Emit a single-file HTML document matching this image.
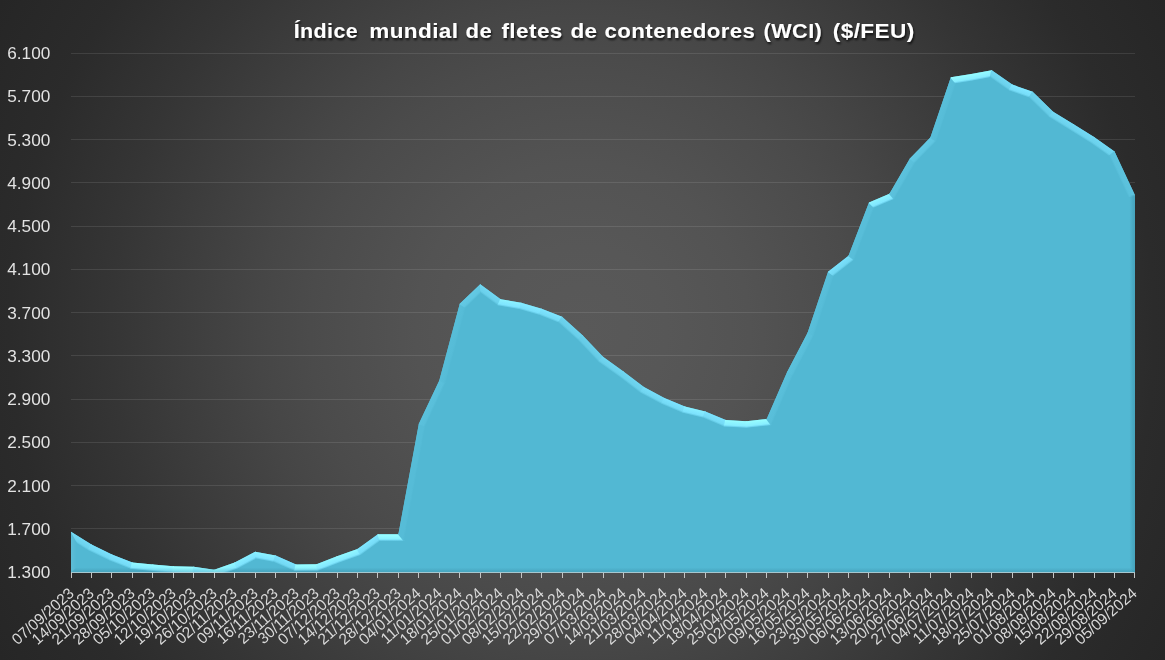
<!DOCTYPE html>
<html><head><meta charset="utf-8"><title>Índice mundial de fletes de contenedores (WCI)</title>
<style>
html,body{margin:0;padding:0;background:#262626;}
body{width:1165px;height:660px;overflow:hidden;}
svg{display:block;}
text{font-family:"Liberation Sans",Arial,sans-serif;}
</style></head><body>
<svg width="1165" height="660" viewBox="0 0 1165 660">
<defs>
<radialGradient id="bg" gradientUnits="userSpaceOnUse" cx="582.5" cy="330" r="669">
<stop offset="0" stop-color="#595959"/><stop offset="0.126" stop-color="#575757"/><stop offset="0.25" stop-color="#535353"/><stop offset="0.407" stop-color="#4b4b4b"/><stop offset="0.484" stop-color="#464646"/><stop offset="0.705" stop-color="#353535"/><stop offset="0.855" stop-color="#2b2b2b"/><stop offset="1" stop-color="#262626"/>
</radialGradient>
<filter id="tsh" x="-5%" y="-30%" width="110%" height="160%">
<feGaussianBlur in="SourceAlpha" stdDeviation="1"/>
<feOffset dx="1" dy="1.5" result="o"/>
<feFlood flood-color="#000" flood-opacity="0.75"/>
<feComposite in2="o" operator="in"/>
<feMerge><feMergeNode/><feMergeNode in="SourceGraphic"/></feMerge>
</filter>
<clipPath id="cp"><polygon points="71.00,573.00 71.00,531.67 91.46,544.54 111.92,554.38 132.38,562.49 152.85,564.54 173.31,566.27 193.77,566.70 214.23,569.84 234.69,562.59 255.15,551.67 275.62,555.57 296.08,564.43 316.54,564.22 337.00,556.32 357.46,549.08 377.92,534.16 398.38,534.16 418.85,423.87 439.31,380.40 459.77,303.85 480.23,284.17 500.69,299.20 521.15,302.77 541.62,308.72 562.08,316.83 582.54,335.21 603.00,356.83 623.46,371.43 643.92,387.11 664.38,397.92 684.85,406.57 705.31,411.43 725.77,420.08 746.23,421.17 766.69,419.00 787.15,371.97 807.62,332.83 828.08,271.63 848.54,255.63 869.00,202.43 889.46,193.78 909.92,158.42 930.38,137.45 950.85,77.33 971.31,74.08 991.77,70.19 1012.23,84.57 1032.69,91.82 1053.15,111.71 1073.62,124.36 1094.08,137.12 1114.54,151.61 1135.00,195.18 1135.00,573.00"/></clipPath>
<linearGradient id="g0" gradientUnits="userSpaceOnUse" x1="71.00" y1="552.33" x2="78.00" y2="552.33"><stop offset="0" stop-color="#ffffff" stop-opacity="0.060"/><stop offset="0.3" stop-color="#ffffff" stop-opacity="0.045"/><stop offset="0.55" stop-color="#ffffff" stop-opacity="0.021"/><stop offset="0.8" stop-color="#ffffff" stop-opacity="0.000"/></linearGradient>
<linearGradient id="g1" gradientUnits="userSpaceOnUse" x1="81.23" y1="538.10" x2="77.50" y2="544.03"><stop offset="0" stop-color="#74daf5"/><stop offset="0.3" stop-color="#70d6f1"/><stop offset="0.7" stop-color="#6cd2ed"/><stop offset="0.86" stop-color="#60c6e1"/><stop offset="1.0" stop-color="#52b8d3"/></linearGradient>
<linearGradient id="g2" gradientUnits="userSpaceOnUse" x1="101.69" y1="549.46" x2="98.66" y2="555.76"><stop offset="0" stop-color="#7be1fc"/><stop offset="0.3" stop-color="#76dcf7"/><stop offset="0.7" stop-color="#71d7f2"/><stop offset="0.86" stop-color="#62c8e3"/><stop offset="1.0" stop-color="#52b8d3"/></linearGradient>
<linearGradient id="g3" gradientUnits="userSpaceOnUse" x1="122.15" y1="558.43" x2="119.57" y2="564.94"><stop offset="0" stop-color="#80e6ff"/><stop offset="0.3" stop-color="#7ae0fb"/><stop offset="0.7" stop-color="#75dbf6"/><stop offset="0.86" stop-color="#64cae5"/><stop offset="1.0" stop-color="#52b8d3"/></linearGradient>
<linearGradient id="g4" gradientUnits="userSpaceOnUse" x1="142.62" y1="563.51" x2="141.92" y2="570.48"><stop offset="0" stop-color="#94faff"/><stop offset="0.3" stop-color="#8cf2ff"/><stop offset="0.7" stop-color="#84eaff"/><stop offset="0.86" stop-color="#6cd2ed"/><stop offset="1.0" stop-color="#52b8d3"/></linearGradient>
<linearGradient id="g5" gradientUnits="userSpaceOnUse" x1="163.08" y1="565.40" x2="162.49" y2="572.38"><stop offset="0" stop-color="#95fbff"/><stop offset="0.3" stop-color="#8df3ff"/><stop offset="0.7" stop-color="#85ebff"/><stop offset="0.86" stop-color="#6dd3ee"/><stop offset="1.0" stop-color="#52b8d3"/></linearGradient>
<linearGradient id="g6" gradientUnits="userSpaceOnUse" x1="183.54" y1="566.49" x2="183.39" y2="573.48"><stop offset="0" stop-color="#9affff"/><stop offset="0.3" stop-color="#92f8ff"/><stop offset="0.7" stop-color="#89efff"/><stop offset="0.86" stop-color="#6fd5f0"/><stop offset="1.0" stop-color="#52b8d3"/></linearGradient>
<linearGradient id="g7" gradientUnits="userSpaceOnUse" x1="204.00" y1="568.27" x2="202.94" y2="575.19"><stop offset="0" stop-color="#8ff5ff"/><stop offset="0.3" stop-color="#88eeff"/><stop offset="0.7" stop-color="#80e6ff"/><stop offset="0.86" stop-color="#6ad0eb"/><stop offset="1.0" stop-color="#52b8d3"/></linearGradient>
<linearGradient id="g8" gradientUnits="userSpaceOnUse" x1="224.46" y1="566.22" x2="226.80" y2="572.81"><stop offset="0" stop-color="#93f9ff"/><stop offset="0.3" stop-color="#8cf2ff"/><stop offset="0.7" stop-color="#84eaff"/><stop offset="0.86" stop-color="#6cd2ed"/><stop offset="1.0" stop-color="#52b8d3"/></linearGradient>
<linearGradient id="g9" gradientUnits="userSpaceOnUse" x1="244.92" y1="557.13" x2="248.22" y2="563.31"><stop offset="0" stop-color="#8af0ff"/><stop offset="0.3" stop-color="#83e9ff"/><stop offset="0.7" stop-color="#7de3fe"/><stop offset="0.86" stop-color="#68cee9"/><stop offset="1.0" stop-color="#52b8d3"/></linearGradient>
<linearGradient id="g10" gradientUnits="userSpaceOnUse" x1="265.38" y1="553.62" x2="264.08" y2="560.50"><stop offset="0" stop-color="#8df3ff"/><stop offset="0.3" stop-color="#86ecff"/><stop offset="0.7" stop-color="#7fe5ff"/><stop offset="0.86" stop-color="#69cfea"/><stop offset="1.0" stop-color="#52b8d3"/></linearGradient>
<linearGradient id="g11" gradientUnits="userSpaceOnUse" x1="285.85" y1="560.00" x2="283.06" y2="566.42"><stop offset="0" stop-color="#7ee4ff"/><stop offset="0.3" stop-color="#78def9"/><stop offset="0.7" stop-color="#73d9f4"/><stop offset="0.86" stop-color="#63c9e4"/><stop offset="1.0" stop-color="#52b8d3"/></linearGradient>
<linearGradient id="g12" gradientUnits="userSpaceOnUse" x1="306.31" y1="564.32" x2="306.38" y2="571.32"><stop offset="0" stop-color="#9cffff"/><stop offset="0.3" stop-color="#93f9ff"/><stop offset="0.7" stop-color="#8af0ff"/><stop offset="0.86" stop-color="#6fd5f0"/><stop offset="1.0" stop-color="#52b8d3"/></linearGradient>
<linearGradient id="g13" gradientUnits="userSpaceOnUse" x1="326.77" y1="560.27" x2="329.29" y2="566.80"><stop offset="0" stop-color="#92f8ff"/><stop offset="0.3" stop-color="#8af0ff"/><stop offset="0.7" stop-color="#83e9ff"/><stop offset="0.86" stop-color="#6cd2ed"/><stop offset="1.0" stop-color="#52b8d3"/></linearGradient>
<linearGradient id="g14" gradientUnits="userSpaceOnUse" x1="347.23" y1="552.70" x2="349.57" y2="559.30"><stop offset="0" stop-color="#93f9ff"/><stop offset="0.3" stop-color="#8cf2ff"/><stop offset="0.7" stop-color="#84eaff"/><stop offset="0.86" stop-color="#6cd2ed"/><stop offset="1.0" stop-color="#52b8d3"/></linearGradient>
<linearGradient id="g15" gradientUnits="userSpaceOnUse" x1="367.69" y1="541.62" x2="371.82" y2="547.27"><stop offset="0" stop-color="#81e7ff"/><stop offset="0.3" stop-color="#7be1fc"/><stop offset="0.7" stop-color="#76dcf7"/><stop offset="0.86" stop-color="#65cbe6"/><stop offset="1.0" stop-color="#52b8d3"/></linearGradient>
<linearGradient id="g16" gradientUnits="userSpaceOnUse" x1="388.15" y1="534.16" x2="388.15" y2="541.16"><stop offset="0" stop-color="#9cffff"/><stop offset="0.3" stop-color="#93f9ff"/><stop offset="0.7" stop-color="#8af0ff"/><stop offset="0.86" stop-color="#70d6f1"/><stop offset="1.0" stop-color="#52b8d3"/></linearGradient>
<linearGradient id="g17" gradientUnits="userSpaceOnUse" x1="408.62" y1="479.01" x2="415.50" y2="480.29"><stop offset="0" stop-color="#57bdd8"/><stop offset="0.3" stop-color="#56bcd7"/><stop offset="0.7" stop-color="#56bcd7"/><stop offset="0.86" stop-color="#54bad5"/><stop offset="1.0" stop-color="#52b8d3"/></linearGradient>
<linearGradient id="g18" gradientUnits="userSpaceOnUse" x1="429.08" y1="402.14" x2="435.41" y2="405.12"><stop offset="0" stop-color="#5bc1dc"/><stop offset="0.3" stop-color="#5ac0db"/><stop offset="0.7" stop-color="#59bfda"/><stop offset="0.86" stop-color="#55bbd6"/><stop offset="1.0" stop-color="#52b8d3"/></linearGradient>
<linearGradient id="g19" gradientUnits="userSpaceOnUse" x1="449.54" y1="342.13" x2="456.30" y2="343.93"><stop offset="0" stop-color="#57bdd8"/><stop offset="0.3" stop-color="#57bdd8"/><stop offset="0.7" stop-color="#56bcd7"/><stop offset="0.86" stop-color="#54bad5"/><stop offset="1.0" stop-color="#52b8d3"/></linearGradient>
<linearGradient id="g20" gradientUnits="userSpaceOnUse" x1="470.00" y1="294.01" x2="474.85" y2="299.06"><stop offset="0" stop-color="#64cae5"/><stop offset="0.3" stop-color="#62c8e3"/><stop offset="0.7" stop-color="#60c6e1"/><stop offset="0.86" stop-color="#59bfda"/><stop offset="1.0" stop-color="#52b8d3"/></linearGradient>
<linearGradient id="g21" gradientUnits="userSpaceOnUse" x1="490.46" y1="291.69" x2="486.32" y2="297.33"><stop offset="0" stop-color="#72d8f3"/><stop offset="0.3" stop-color="#6ed4ef"/><stop offset="0.7" stop-color="#6ad0eb"/><stop offset="0.86" stop-color="#5fc5e0"/><stop offset="1.0" stop-color="#52b8d3"/></linearGradient>
<linearGradient id="g22" gradientUnits="userSpaceOnUse" x1="510.92" y1="300.98" x2="509.72" y2="307.88"><stop offset="0" stop-color="#8ef4ff"/><stop offset="0.3" stop-color="#86ecff"/><stop offset="0.7" stop-color="#7fe5ff"/><stop offset="0.86" stop-color="#6ad0eb"/><stop offset="1.0" stop-color="#52b8d3"/></linearGradient>
<linearGradient id="g23" gradientUnits="userSpaceOnUse" x1="531.38" y1="305.74" x2="529.43" y2="312.46"><stop offset="0" stop-color="#86ecff"/><stop offset="0.3" stop-color="#80e6ff"/><stop offset="0.7" stop-color="#7ae0fb"/><stop offset="0.86" stop-color="#67cde8"/><stop offset="1.0" stop-color="#52b8d3"/></linearGradient>
<linearGradient id="g24" gradientUnits="userSpaceOnUse" x1="551.85" y1="312.77" x2="549.27" y2="319.28"><stop offset="0" stop-color="#80e6ff"/><stop offset="0.3" stop-color="#7ae0fb"/><stop offset="0.7" stop-color="#75dbf6"/><stop offset="0.86" stop-color="#64cae5"/><stop offset="1.0" stop-color="#52b8d3"/></linearGradient>
<linearGradient id="g25" gradientUnits="userSpaceOnUse" x1="572.31" y1="326.02" x2="567.63" y2="331.22"><stop offset="0" stop-color="#6ed4ef"/><stop offset="0.3" stop-color="#6bd1ec"/><stop offset="0.7" stop-color="#68cee9"/><stop offset="0.86" stop-color="#5dc3de"/><stop offset="1.0" stop-color="#52b8d3"/></linearGradient>
<linearGradient id="g26" gradientUnits="userSpaceOnUse" x1="592.77" y1="346.02" x2="587.68" y2="350.83"><stop offset="0" stop-color="#6bd1ec"/><stop offset="0.3" stop-color="#68cee9"/><stop offset="0.7" stop-color="#65cbe6"/><stop offset="0.86" stop-color="#5cc2dd"/><stop offset="1.0" stop-color="#52b8d3"/></linearGradient>
<linearGradient id="g27" gradientUnits="userSpaceOnUse" x1="613.23" y1="364.13" x2="609.17" y2="369.83"><stop offset="0" stop-color="#72d8f3"/><stop offset="0.3" stop-color="#6ed4ef"/><stop offset="0.7" stop-color="#6ad0eb"/><stop offset="0.86" stop-color="#5fc5e0"/><stop offset="1.0" stop-color="#52b8d3"/></linearGradient>
<linearGradient id="g28" gradientUnits="userSpaceOnUse" x1="633.69" y1="379.27" x2="629.43" y2="384.82"><stop offset="0" stop-color="#71d7f2"/><stop offset="0.3" stop-color="#6dd3ee"/><stop offset="0.7" stop-color="#6ad0eb"/><stop offset="0.86" stop-color="#5ec4df"/><stop offset="1.0" stop-color="#52b8d3"/></linearGradient>
<linearGradient id="g29" gradientUnits="userSpaceOnUse" x1="654.15" y1="392.51" x2="650.88" y2="398.70"><stop offset="0" stop-color="#78def9"/><stop offset="0.3" stop-color="#74daf5"/><stop offset="0.7" stop-color="#6fd5f0"/><stop offset="0.86" stop-color="#61c7e2"/><stop offset="1.0" stop-color="#52b8d3"/></linearGradient>
<linearGradient id="g30" gradientUnits="userSpaceOnUse" x1="674.62" y1="402.24" x2="671.89" y2="408.69"><stop offset="0" stop-color="#7ee4ff"/><stop offset="0.3" stop-color="#79dffa"/><stop offset="0.7" stop-color="#74daf5"/><stop offset="0.86" stop-color="#64cae5"/><stop offset="1.0" stop-color="#52b8d3"/></linearGradient>
<linearGradient id="g31" gradientUnits="userSpaceOnUse" x1="695.08" y1="409.00" x2="693.46" y2="415.81"><stop offset="0" stop-color="#8af0ff"/><stop offset="0.3" stop-color="#83e9ff"/><stop offset="0.7" stop-color="#7ce2fd"/><stop offset="0.86" stop-color="#68cee9"/><stop offset="1.0" stop-color="#52b8d3"/></linearGradient>
<linearGradient id="g32" gradientUnits="userSpaceOnUse" x1="715.54" y1="415.76" x2="712.81" y2="422.21"><stop offset="0" stop-color="#7ee4ff"/><stop offset="0.3" stop-color="#79dffa"/><stop offset="0.7" stop-color="#74daf5"/><stop offset="0.86" stop-color="#64cae5"/><stop offset="1.0" stop-color="#52b8d3"/></linearGradient>
<linearGradient id="g33" gradientUnits="userSpaceOnUse" x1="736.00" y1="420.62" x2="735.63" y2="427.62"><stop offset="0" stop-color="#98feff"/><stop offset="0.3" stop-color="#8ff5ff"/><stop offset="0.7" stop-color="#87edff"/><stop offset="0.86" stop-color="#6ed4ef"/><stop offset="1.0" stop-color="#52b8d3"/></linearGradient>
<linearGradient id="g34" gradientUnits="userSpaceOnUse" x1="756.46" y1="420.08" x2="757.20" y2="427.05"><stop offset="0" stop-color="#99ffff"/><stop offset="0.3" stop-color="#91f7ff"/><stop offset="0.7" stop-color="#88eeff"/><stop offset="0.86" stop-color="#6fd5f0"/><stop offset="1.0" stop-color="#52b8d3"/></linearGradient>
<linearGradient id="g35" gradientUnits="userSpaceOnUse" x1="776.92" y1="395.49" x2="783.34" y2="398.28"><stop offset="0" stop-color="#5ac0db"/><stop offset="0.3" stop-color="#59bfda"/><stop offset="0.7" stop-color="#58bed9"/><stop offset="0.86" stop-color="#55bbd6"/><stop offset="1.0" stop-color="#52b8d3"/></linearGradient>
<linearGradient id="g36" gradientUnits="userSpaceOnUse" x1="797.38" y1="352.40" x2="803.59" y2="355.64"><stop offset="0" stop-color="#5cc2dd"/><stop offset="0.3" stop-color="#5ac0db"/><stop offset="0.7" stop-color="#59bfda"/><stop offset="0.86" stop-color="#56bcd7"/><stop offset="1.0" stop-color="#52b8d3"/></linearGradient>
<linearGradient id="g37" gradientUnits="userSpaceOnUse" x1="817.85" y1="302.23" x2="824.48" y2="304.45"><stop offset="0" stop-color="#58bed9"/><stop offset="0.3" stop-color="#58bed9"/><stop offset="0.7" stop-color="#57bdd8"/><stop offset="0.86" stop-color="#55bbd6"/><stop offset="1.0" stop-color="#52b8d3"/></linearGradient>
<linearGradient id="g38" gradientUnits="userSpaceOnUse" x1="838.31" y1="263.63" x2="842.62" y2="269.14"><stop offset="0" stop-color="#7ce2fd"/><stop offset="0.3" stop-color="#77ddf8"/><stop offset="0.7" stop-color="#72d8f3"/><stop offset="0.86" stop-color="#63c9e4"/><stop offset="1.0" stop-color="#52b8d3"/></linearGradient>
<linearGradient id="g39" gradientUnits="userSpaceOnUse" x1="858.77" y1="229.03" x2="865.30" y2="231.54"><stop offset="0" stop-color="#59bfda"/><stop offset="0.3" stop-color="#58bed9"/><stop offset="0.7" stop-color="#58bed9"/><stop offset="0.86" stop-color="#55bbd6"/><stop offset="1.0" stop-color="#52b8d3"/></linearGradient>
<linearGradient id="g40" gradientUnits="userSpaceOnUse" x1="879.23" y1="198.10" x2="881.96" y2="204.55"><stop offset="0" stop-color="#90f6ff"/><stop offset="0.3" stop-color="#88eeff"/><stop offset="0.7" stop-color="#81e7ff"/><stop offset="0.86" stop-color="#6bd1ec"/><stop offset="1.0" stop-color="#52b8d3"/></linearGradient>
<linearGradient id="g41" gradientUnits="userSpaceOnUse" x1="899.69" y1="176.10" x2="905.75" y2="179.61"><stop offset="0" stop-color="#5cc2dd"/><stop offset="0.3" stop-color="#5bc1dc"/><stop offset="0.7" stop-color="#5ac0db"/><stop offset="0.86" stop-color="#56bcd7"/><stop offset="1.0" stop-color="#52b8d3"/></linearGradient>
<linearGradient id="g42" gradientUnits="userSpaceOnUse" x1="920.15" y1="147.93" x2="925.16" y2="152.82"><stop offset="0" stop-color="#63c9e4"/><stop offset="0.3" stop-color="#61c7e2"/><stop offset="0.7" stop-color="#5fc5e0"/><stop offset="0.86" stop-color="#59bfda"/><stop offset="1.0" stop-color="#52b8d3"/></linearGradient>
<linearGradient id="g43" gradientUnits="userSpaceOnUse" x1="940.62" y1="107.39" x2="947.24" y2="109.64"><stop offset="0" stop-color="#58bed9"/><stop offset="0.3" stop-color="#58bed9"/><stop offset="0.7" stop-color="#57bdd8"/><stop offset="0.86" stop-color="#55bbd6"/><stop offset="1.0" stop-color="#52b8d3"/></linearGradient>
<linearGradient id="g44" gradientUnits="userSpaceOnUse" x1="961.08" y1="75.71" x2="962.17" y2="82.62"><stop offset="0" stop-color="#98feff"/><stop offset="0.3" stop-color="#90f6ff"/><stop offset="0.7" stop-color="#87edff"/><stop offset="0.86" stop-color="#6ed4ef"/><stop offset="1.0" stop-color="#52b8d3"/></linearGradient>
<linearGradient id="g45" gradientUnits="userSpaceOnUse" x1="981.54" y1="72.14" x2="982.85" y2="79.01"><stop offset="0" stop-color="#97fdff"/><stop offset="0.3" stop-color="#8ff5ff"/><stop offset="0.7" stop-color="#87edff"/><stop offset="0.86" stop-color="#6ed4ef"/><stop offset="1.0" stop-color="#52b8d3"/></linearGradient>
<linearGradient id="g46" gradientUnits="userSpaceOnUse" x1="1002.00" y1="77.38" x2="997.97" y2="83.11"><stop offset="0" stop-color="#72d8f3"/><stop offset="0.3" stop-color="#6fd5f0"/><stop offset="0.7" stop-color="#6bd1ec"/><stop offset="0.86" stop-color="#5fc5e0"/><stop offset="1.0" stop-color="#52b8d3"/></linearGradient>
<linearGradient id="g47" gradientUnits="userSpaceOnUse" x1="1022.46" y1="88.19" x2="1020.13" y2="94.79"><stop offset="0" stop-color="#82e8ff"/><stop offset="0.3" stop-color="#7de3fe"/><stop offset="0.7" stop-color="#77ddf8"/><stop offset="0.86" stop-color="#65cbe6"/><stop offset="1.0" stop-color="#52b8d3"/></linearGradient>
<linearGradient id="g48" gradientUnits="userSpaceOnUse" x1="1042.92" y1="101.76" x2="1038.04" y2="106.78"><stop offset="0" stop-color="#6dd3ee"/><stop offset="0.3" stop-color="#6ad0eb"/><stop offset="0.7" stop-color="#67cde8"/><stop offset="0.86" stop-color="#5dc3de"/><stop offset="1.0" stop-color="#52b8d3"/></linearGradient>
<linearGradient id="g49" gradientUnits="userSpaceOnUse" x1="1063.38" y1="118.04" x2="1059.70" y2="123.99"><stop offset="0" stop-color="#74daf5"/><stop offset="0.3" stop-color="#70d6f1"/><stop offset="0.7" stop-color="#6cd2ed"/><stop offset="0.86" stop-color="#60c6e1"/><stop offset="1.0" stop-color="#52b8d3"/></linearGradient>
<linearGradient id="g50" gradientUnits="userSpaceOnUse" x1="1083.85" y1="130.74" x2="1080.14" y2="136.68"><stop offset="0" stop-color="#74daf5"/><stop offset="0.3" stop-color="#70d6f1"/><stop offset="0.7" stop-color="#6cd2ed"/><stop offset="0.86" stop-color="#60c6e1"/><stop offset="1.0" stop-color="#52b8d3"/></linearGradient>
<linearGradient id="g51" gradientUnits="userSpaceOnUse" x1="1104.31" y1="144.37" x2="1100.26" y2="150.08"><stop offset="0" stop-color="#72d8f3"/><stop offset="0.3" stop-color="#6ed4ef"/><stop offset="0.7" stop-color="#6bd1ec"/><stop offset="0.86" stop-color="#5fc5e0"/><stop offset="1.0" stop-color="#52b8d3"/></linearGradient>
<linearGradient id="g52" gradientUnits="userSpaceOnUse" x1="1124.77" y1="173.40" x2="1118.43" y2="176.37"><stop offset="0" stop-color="#5dc3de"/><stop offset="0.3" stop-color="#5cc2dd"/><stop offset="0.7" stop-color="#5bc1dc"/><stop offset="0.86" stop-color="#56bcd7"/><stop offset="1.0" stop-color="#52b8d3"/></linearGradient>
<linearGradient id="g53" gradientUnits="userSpaceOnUse" x1="1135.00" y1="384.09" x2="1128.00" y2="384.09"><stop offset="0" stop-color="#0a3a4a" stop-opacity="0.160"/><stop offset="0.3" stop-color="#0a3a4a" stop-opacity="0.120"/><stop offset="0.55" stop-color="#0a3a4a" stop-opacity="0.056"/><stop offset="0.8" stop-color="#0a3a4a" stop-opacity="0.000"/></linearGradient>
<linearGradient id="g54" gradientUnits="userSpaceOnUse" x1="603.00" y1="573.00" x2="603.00" y2="566.00"><stop offset="0" stop-color="#0a3a4a" stop-opacity="0.160"/><stop offset="0.3" stop-color="#0a3a4a" stop-opacity="0.120"/><stop offset="0.55" stop-color="#0a3a4a" stop-opacity="0.056"/><stop offset="0.8" stop-color="#0a3a4a" stop-opacity="0.000"/></linearGradient>
</defs>
<rect width="1165" height="660" fill="url(#bg)"/>
<g filter="url(#tsh)" font-size="21" font-weight="bold" letter-spacing="0.4" fill="#ffffff">
<text transform="translate(293.68,38) scale(1.021,1)">Índice</text>
<text transform="translate(369.23,38) scale(1.072,1)">mundial</text>
<text transform="translate(465.55,38) scale(1.05,1)">de</text>
<text transform="translate(501.40,38) scale(1.073,1)">fletes</text>
<text transform="translate(570.43,38) scale(1.07,1)">de</text>
<text transform="translate(604.54,38) scale(1.059,1)">contenedores</text>
<text transform="translate(763.57,38) scale(1.033,1)">(WCI)</text>
<text transform="translate(832.72,38) scale(1.076,1)">($/FEU)</text>
</g>
<line x1="71" y1="53.5" x2="1135" y2="53.5" stroke="#ffffff" stroke-opacity="0.1" stroke-width="1"/>
<line x1="71" y1="96.5" x2="1135" y2="96.5" stroke="#ffffff" stroke-opacity="0.1" stroke-width="1"/>
<line x1="71" y1="139.5" x2="1135" y2="139.5" stroke="#ffffff" stroke-opacity="0.1" stroke-width="1"/>
<line x1="71" y1="182.5" x2="1135" y2="182.5" stroke="#ffffff" stroke-opacity="0.1" stroke-width="1"/>
<line x1="71" y1="226.5" x2="1135" y2="226.5" stroke="#ffffff" stroke-opacity="0.1" stroke-width="1"/>
<line x1="71" y1="269.5" x2="1135" y2="269.5" stroke="#ffffff" stroke-opacity="0.1" stroke-width="1"/>
<line x1="71" y1="312.5" x2="1135" y2="312.5" stroke="#ffffff" stroke-opacity="0.1" stroke-width="1"/>
<line x1="71" y1="355.5" x2="1135" y2="355.5" stroke="#ffffff" stroke-opacity="0.1" stroke-width="1"/>
<line x1="71" y1="399.5" x2="1135" y2="399.5" stroke="#ffffff" stroke-opacity="0.1" stroke-width="1"/>
<line x1="71" y1="442.5" x2="1135" y2="442.5" stroke="#ffffff" stroke-opacity="0.1" stroke-width="1"/>
<line x1="71" y1="485.5" x2="1135" y2="485.5" stroke="#ffffff" stroke-opacity="0.1" stroke-width="1"/>
<line x1="71" y1="528.5" x2="1135" y2="528.5" stroke="#ffffff" stroke-opacity="0.1" stroke-width="1"/>
<text x="50.3" y="578.0" text-anchor="end" font-size="17.2" fill="#e2e2e2">1.300</text>
<text x="50.3" y="534.8" text-anchor="end" font-size="17.2" fill="#e2e2e2">1.700</text>
<text x="50.3" y="491.5" text-anchor="end" font-size="17.2" fill="#e2e2e2">2.100</text>
<text x="50.3" y="448.2" text-anchor="end" font-size="17.2" fill="#e2e2e2">2.500</text>
<text x="50.3" y="405.0" text-anchor="end" font-size="17.2" fill="#e2e2e2">2.900</text>
<text x="50.3" y="361.8" text-anchor="end" font-size="17.2" fill="#e2e2e2">3.300</text>
<text x="50.3" y="318.5" text-anchor="end" font-size="17.2" fill="#e2e2e2">3.700</text>
<text x="50.3" y="275.2" text-anchor="end" font-size="17.2" fill="#e2e2e2">4.100</text>
<text x="50.3" y="232.0" text-anchor="end" font-size="17.2" fill="#e2e2e2">4.500</text>
<text x="50.3" y="188.8" text-anchor="end" font-size="17.2" fill="#e2e2e2">4.900</text>
<text x="50.3" y="145.5" text-anchor="end" font-size="17.2" fill="#e2e2e2">5.300</text>
<text x="50.3" y="102.2" text-anchor="end" font-size="17.2" fill="#e2e2e2">5.700</text>
<text x="50.3" y="59.0" text-anchor="end" font-size="17.2" fill="#e2e2e2">6.100</text>
<polygon points="71.00,573.00 71.00,531.67 91.46,544.54 111.92,554.38 132.38,562.49 152.85,564.54 173.31,566.27 193.77,566.70 214.23,569.84 234.69,562.59 255.15,551.67 275.62,555.57 296.08,564.43 316.54,564.22 337.00,556.32 357.46,549.08 377.92,534.16 398.38,534.16 418.85,423.87 439.31,380.40 459.77,303.85 480.23,284.17 500.69,299.20 521.15,302.77 541.62,308.72 562.08,316.83 582.54,335.21 603.00,356.83 623.46,371.43 643.92,387.11 664.38,397.92 684.85,406.57 705.31,411.43 725.77,420.08 746.23,421.17 766.69,419.00 787.15,371.97 807.62,332.83 828.08,271.63 848.54,255.63 869.00,202.43 889.46,193.78 909.92,158.42 930.38,137.45 950.85,77.33 971.31,74.08 991.77,70.19 1012.23,84.57 1032.69,91.82 1053.15,111.71 1073.62,124.36 1094.08,137.12 1114.54,151.61 1135.00,195.18 1135.00,573.00" fill="#52b8d3"/>
<g clip-path="url(#cp)">
<polygon points="68.49,527.73 92.94,543.10 88.58,550.99 77.49,544.02" fill="url(#g1)"/>
<polygon points="91.89,542.52 113.27,552.80 109.65,561.05 87.53,550.41" fill="url(#g2)"/>
<polygon points="112.17,552.32 133.42,560.74 131.27,569.57 108.56,560.57" fill="url(#g3)"/>
<polygon points="132.27,560.46 153.63,562.61 152.80,571.57 130.12,569.29" fill="url(#g4)"/>
<polygon points="152.43,562.50 174.01,564.32 173.54,573.31 151.60,571.46" fill="url(#g5)"/>
<polygon points="172.81,564.26 194.54,564.72 193.76,573.70 172.34,573.25" fill="url(#g6)"/>
<polygon points="193.35,564.61 214.63,567.88 215.50,577.11 192.57,573.60" fill="url(#g7)"/>
<polygon points="213.47,567.98 234.45,560.56 238.09,568.82 214.34,577.22" fill="url(#g8)"/>
<polygon points="233.35,561.04 255.36,549.29 256.80,558.73 236.99,569.30" fill="url(#g9)"/>
<polygon points="254.25,549.46 276.80,553.75 274.13,562.41 255.68,558.90" fill="url(#g10)"/>
<polygon points="275.66,553.40 297.03,562.67 295.21,571.69 272.99,562.06" fill="url(#g11)"/>
<polygon points="295.88,562.43 316.76,562.21 318.48,571.19 294.06,571.45" fill="url(#g12)"/>
<polygon points="315.60,562.43 336.87,554.23 339.99,562.67 317.32,571.42" fill="url(#g13)"/>
<polygon points="335.74,554.65 357.08,547.09 361.33,555.13 338.86,563.09" fill="url(#g14)"/>
<polygon points="356.03,547.64 377.76,531.80 380.69,540.80 360.28,555.69" fill="url(#g15)"/>
<polygon points="376.67,532.16 397.32,532.16 404.81,541.16 379.60,541.16" fill="url(#g16)"/>
<polygon points="396.61,532.75 417.04,422.66 425.67,425.44 404.10,541.75" fill="url(#g17)"/>
<polygon points="416.67,423.79 437.68,379.17 446.16,382.27 425.31,426.58" fill="url(#g18)"/>
<polygon points="437.27,380.29 458.14,302.22 466.18,306.96 445.75,383.40" fill="url(#g19)"/>
<polygon points="457.55,303.21 480.49,281.15 481.27,292.89 465.60,307.96" fill="url(#g20)"/>
<polygon points="479.57,281.21 501.98,297.67 498.36,306.17 480.35,292.95" fill="url(#g21)"/>
<polygon points="500.91,297.21 522.20,300.92 520.16,309.70 497.28,305.71" fill="url(#g22)"/>
<polygon points="521.03,300.65 542.84,306.99 539.92,315.51 518.99,309.43" fill="url(#g23)"/>
<polygon points="541.71,306.60 563.70,315.32 558.89,323.09 538.79,315.12" fill="url(#g24)"/>
<polygon points="562.70,314.70 584.38,334.17 578.10,340.62 557.89,322.47" fill="url(#g25)"/>
<polygon points="583.52,333.34 604.73,355.75 598.79,362.57 577.24,339.79" fill="url(#g26)"/>
<polygon points="603.83,354.97 625.14,370.17 619.79,377.41 597.89,361.79" fill="url(#g27)"/>
<polygon points="624.17,369.45 645.48,385.78 640.61,393.39 618.82,376.69" fill="url(#g28)"/>
<polygon points="644.48,385.14 665.77,396.39 661.91,404.53 639.60,392.74" fill="url(#g29)"/>
<polygon points="664.69,395.88 686.02,404.90 683.21,413.48 660.83,404.02" fill="url(#g30)"/>
<polygon points="684.89,404.52 706.52,409.67 703.70,418.25 682.07,413.10" fill="url(#g31)"/>
<polygon points="705.38,409.29 726.78,418.34 724.73,427.24 702.57,417.88" fill="url(#g32)"/>
<polygon points="725.63,418.07 746.78,419.19 747.01,428.22 723.57,426.98" fill="url(#g33)"/>
<polygon points="745.58,419.22 765.92,417.07 772.08,425.47 745.82,428.25" fill="url(#g34)"/>
<polygon points="765.08,417.69 785.59,370.56 793.71,374.44 771.24,426.09" fill="url(#g35)"/>
<polygon points="785.07,371.64 806.05,331.51 814.36,335.04 793.20,375.52" fill="url(#g36)"/>
<polygon points="805.58,332.61 826.56,269.85 834.24,275.28 813.89,336.15" fill="url(#g37)"/>
<polygon points="825.90,270.79 847.34,254.02 854.85,259.58 833.58,276.22" fill="url(#g38)"/>
<polygon points="846.66,254.95 867.65,200.36 874.68,207.16 854.16,260.51" fill="url(#g39)"/>
<polygon points="866.89,201.15 888.62,191.96 894.90,199.08 873.91,207.95" fill="url(#g40)"/>
<polygon points="887.77,192.72 908.62,156.68 915.84,162.16 894.05,199.83" fill="url(#g41)"/>
<polygon points="907.90,157.63 929.06,135.94 936.92,140.77 915.13,163.11" fill="url(#g42)"/>
<polygon points="928.44,136.94 949.53,74.97 956.31,83.01 936.31,141.77" fill="url(#g43)"/>
<polygon points="948.75,75.64 971.56,72.02 973.10,80.89 955.52,83.67" fill="url(#g44)"/>
<polygon points="970.37,72.23 992.82,67.96 990.76,77.51 971.92,81.09" fill="url(#g45)"/>
<polygon points="991.74,67.72 1013.65,83.12 1009.48,91.20 989.68,77.28" fill="url(#g46)"/>
<polygon points="1012.59,82.58 1034.34,90.28 1029.48,98.10 1008.42,90.65" fill="url(#g47)"/>
<polygon points="1033.34,89.66 1054.82,110.54 1049.25,117.68 1028.48,97.49" fill="url(#g48)"/>
<polygon points="1053.88,109.81 1075.18,122.98 1070.43,130.62 1048.31,116.95" fill="url(#g49)"/>
<polygon points="1074.16,122.35 1095.69,135.77 1090.71,143.27 1069.41,129.99" fill="url(#g50)"/>
<polygon points="1094.70,135.11 1116.61,150.63 1109.48,156.60 1089.71,142.61" fill="url(#g51)"/>
<polygon points="1115.87,149.74 1137.26,195.28 1128.26,197.29 1108.73,155.71" fill="url(#g52)"/>
<polygon points="69.00,575.60 69.00,527.45 78.00,543.74 78.00,566.60" fill="url(#g0)"/>
<polygon points="1137.00,194.14 1137.00,575.60 1128.00,566.60 1128.00,196.15" fill="url(#g53)"/>
<polygon points="1137.60,575.00 68.40,575.00 77.40,566.00 1128.60,566.00" fill="url(#g54)"/>
</g>
<line x1="71" y1="572.5" x2="1135" y2="572.5" stroke="#d9d9d9" stroke-opacity="0.65" stroke-width="1"/>
<line x1="71.5" y1="573" x2="71.5" y2="578" stroke="#c4c4c4" stroke-width="1"/>
<line x1="91.5" y1="573" x2="91.5" y2="578" stroke="#c4c4c4" stroke-width="1"/>
<line x1="111.5" y1="573" x2="111.5" y2="578" stroke="#c4c4c4" stroke-width="1"/>
<line x1="132.5" y1="573" x2="132.5" y2="578" stroke="#c4c4c4" stroke-width="1"/>
<line x1="152.5" y1="573" x2="152.5" y2="578" stroke="#c4c4c4" stroke-width="1"/>
<line x1="173.5" y1="573" x2="173.5" y2="578" stroke="#c4c4c4" stroke-width="1"/>
<line x1="193.5" y1="573" x2="193.5" y2="578" stroke="#c4c4c4" stroke-width="1"/>
<line x1="214.5" y1="573" x2="214.5" y2="578" stroke="#c4c4c4" stroke-width="1"/>
<line x1="234.5" y1="573" x2="234.5" y2="578" stroke="#c4c4c4" stroke-width="1"/>
<line x1="255.5" y1="573" x2="255.5" y2="578" stroke="#c4c4c4" stroke-width="1"/>
<line x1="275.5" y1="573" x2="275.5" y2="578" stroke="#c4c4c4" stroke-width="1"/>
<line x1="296.5" y1="573" x2="296.5" y2="578" stroke="#c4c4c4" stroke-width="1"/>
<line x1="316.5" y1="573" x2="316.5" y2="578" stroke="#c4c4c4" stroke-width="1"/>
<line x1="337.5" y1="573" x2="337.5" y2="578" stroke="#c4c4c4" stroke-width="1"/>
<line x1="357.5" y1="573" x2="357.5" y2="578" stroke="#c4c4c4" stroke-width="1"/>
<line x1="377.5" y1="573" x2="377.5" y2="578" stroke="#c4c4c4" stroke-width="1"/>
<line x1="398.5" y1="573" x2="398.5" y2="578" stroke="#c4c4c4" stroke-width="1"/>
<line x1="418.5" y1="573" x2="418.5" y2="578" stroke="#c4c4c4" stroke-width="1"/>
<line x1="439.5" y1="573" x2="439.5" y2="578" stroke="#c4c4c4" stroke-width="1"/>
<line x1="459.5" y1="573" x2="459.5" y2="578" stroke="#c4c4c4" stroke-width="1"/>
<line x1="480.5" y1="573" x2="480.5" y2="578" stroke="#c4c4c4" stroke-width="1"/>
<line x1="500.5" y1="573" x2="500.5" y2="578" stroke="#c4c4c4" stroke-width="1"/>
<line x1="521.5" y1="573" x2="521.5" y2="578" stroke="#c4c4c4" stroke-width="1"/>
<line x1="541.5" y1="573" x2="541.5" y2="578" stroke="#c4c4c4" stroke-width="1"/>
<line x1="562.5" y1="573" x2="562.5" y2="578" stroke="#c4c4c4" stroke-width="1"/>
<line x1="582.5" y1="573" x2="582.5" y2="578" stroke="#c4c4c4" stroke-width="1"/>
<line x1="603.5" y1="573" x2="603.5" y2="578" stroke="#c4c4c4" stroke-width="1"/>
<line x1="623.5" y1="573" x2="623.5" y2="578" stroke="#c4c4c4" stroke-width="1"/>
<line x1="643.5" y1="573" x2="643.5" y2="578" stroke="#c4c4c4" stroke-width="1"/>
<line x1="664.5" y1="573" x2="664.5" y2="578" stroke="#c4c4c4" stroke-width="1"/>
<line x1="684.5" y1="573" x2="684.5" y2="578" stroke="#c4c4c4" stroke-width="1"/>
<line x1="705.5" y1="573" x2="705.5" y2="578" stroke="#c4c4c4" stroke-width="1"/>
<line x1="725.5" y1="573" x2="725.5" y2="578" stroke="#c4c4c4" stroke-width="1"/>
<line x1="746.5" y1="573" x2="746.5" y2="578" stroke="#c4c4c4" stroke-width="1"/>
<line x1="766.5" y1="573" x2="766.5" y2="578" stroke="#c4c4c4" stroke-width="1"/>
<line x1="787.5" y1="573" x2="787.5" y2="578" stroke="#c4c4c4" stroke-width="1"/>
<line x1="807.5" y1="573" x2="807.5" y2="578" stroke="#c4c4c4" stroke-width="1"/>
<line x1="828.5" y1="573" x2="828.5" y2="578" stroke="#c4c4c4" stroke-width="1"/>
<line x1="848.5" y1="573" x2="848.5" y2="578" stroke="#c4c4c4" stroke-width="1"/>
<line x1="868.5" y1="573" x2="868.5" y2="578" stroke="#c4c4c4" stroke-width="1"/>
<line x1="889.5" y1="573" x2="889.5" y2="578" stroke="#c4c4c4" stroke-width="1"/>
<line x1="909.5" y1="573" x2="909.5" y2="578" stroke="#c4c4c4" stroke-width="1"/>
<line x1="930.5" y1="573" x2="930.5" y2="578" stroke="#c4c4c4" stroke-width="1"/>
<line x1="950.5" y1="573" x2="950.5" y2="578" stroke="#c4c4c4" stroke-width="1"/>
<line x1="971.5" y1="573" x2="971.5" y2="578" stroke="#c4c4c4" stroke-width="1"/>
<line x1="991.5" y1="573" x2="991.5" y2="578" stroke="#c4c4c4" stroke-width="1"/>
<line x1="1012.5" y1="573" x2="1012.5" y2="578" stroke="#c4c4c4" stroke-width="1"/>
<line x1="1032.5" y1="573" x2="1032.5" y2="578" stroke="#c4c4c4" stroke-width="1"/>
<line x1="1053.5" y1="573" x2="1053.5" y2="578" stroke="#c4c4c4" stroke-width="1"/>
<line x1="1073.5" y1="573" x2="1073.5" y2="578" stroke="#c4c4c4" stroke-width="1"/>
<line x1="1094.5" y1="573" x2="1094.5" y2="578" stroke="#c4c4c4" stroke-width="1"/>
<line x1="1114.5" y1="573" x2="1114.5" y2="578" stroke="#c4c4c4" stroke-width="1"/>
<line x1="1134.5" y1="573" x2="1134.5" y2="578" stroke="#c4c4c4" stroke-width="1"/>
<text transform="translate(74.90,594.75) rotate(-41.5)" text-anchor="end" font-size="15.5" letter-spacing="-0.1" fill="#d9d9d9">07/09/2023</text>
<text transform="translate(94.90,594.75) rotate(-41.5)" text-anchor="end" font-size="15.5" letter-spacing="-0.1" fill="#d9d9d9">14/09/2023</text>
<text transform="translate(114.90,594.75) rotate(-41.5)" text-anchor="end" font-size="15.5" letter-spacing="-0.1" fill="#d9d9d9">21/09/2023</text>
<text transform="translate(135.90,594.75) rotate(-41.5)" text-anchor="end" font-size="15.5" letter-spacing="-0.1" fill="#d9d9d9">28/09/2023</text>
<text transform="translate(155.90,594.75) rotate(-41.5)" text-anchor="end" font-size="15.5" letter-spacing="-0.1" fill="#d9d9d9">05/10/2023</text>
<text transform="translate(176.90,594.75) rotate(-41.5)" text-anchor="end" font-size="15.5" letter-spacing="-0.1" fill="#d9d9d9">12/10/2023</text>
<text transform="translate(196.90,594.75) rotate(-41.5)" text-anchor="end" font-size="15.5" letter-spacing="-0.1" fill="#d9d9d9">19/10/2023</text>
<text transform="translate(217.90,594.75) rotate(-41.5)" text-anchor="end" font-size="15.5" letter-spacing="-0.1" fill="#d9d9d9">26/10/2023</text>
<text transform="translate(237.90,594.75) rotate(-41.5)" text-anchor="end" font-size="15.5" letter-spacing="-0.1" fill="#d9d9d9">02/11/2023</text>
<text transform="translate(258.90,594.75) rotate(-41.5)" text-anchor="end" font-size="15.5" letter-spacing="-0.1" fill="#d9d9d9">09/11/2023</text>
<text transform="translate(278.90,594.75) rotate(-41.5)" text-anchor="end" font-size="15.5" letter-spacing="-0.1" fill="#d9d9d9">16/11/2023</text>
<text transform="translate(299.90,594.75) rotate(-41.5)" text-anchor="end" font-size="15.5" letter-spacing="-0.1" fill="#d9d9d9">23/11/2023</text>
<text transform="translate(319.90,594.75) rotate(-41.5)" text-anchor="end" font-size="15.5" letter-spacing="-0.1" fill="#d9d9d9">30/11/2023</text>
<text transform="translate(340.90,594.75) rotate(-41.5)" text-anchor="end" font-size="15.5" letter-spacing="-0.1" fill="#d9d9d9">07/12/2023</text>
<text transform="translate(360.90,594.75) rotate(-41.5)" text-anchor="end" font-size="15.5" letter-spacing="-0.1" fill="#d9d9d9">14/12/2023</text>
<text transform="translate(380.90,594.75) rotate(-41.5)" text-anchor="end" font-size="15.5" letter-spacing="-0.1" fill="#d9d9d9">21/12/2023</text>
<text transform="translate(401.90,594.75) rotate(-41.5)" text-anchor="end" font-size="15.5" letter-spacing="-0.1" fill="#d9d9d9">28/12/2023</text>
<text transform="translate(421.90,594.75) rotate(-41.5)" text-anchor="end" font-size="15.5" letter-spacing="-0.1" fill="#d9d9d9">04/01/2024</text>
<text transform="translate(442.90,594.75) rotate(-41.5)" text-anchor="end" font-size="15.5" letter-spacing="-0.1" fill="#d9d9d9">11/01/2024</text>
<text transform="translate(462.90,594.75) rotate(-41.5)" text-anchor="end" font-size="15.5" letter-spacing="-0.1" fill="#d9d9d9">18/01/2024</text>
<text transform="translate(483.90,594.75) rotate(-41.5)" text-anchor="end" font-size="15.5" letter-spacing="-0.1" fill="#d9d9d9">25/01/2024</text>
<text transform="translate(503.90,594.75) rotate(-41.5)" text-anchor="end" font-size="15.5" letter-spacing="-0.1" fill="#d9d9d9">01/02/2024</text>
<text transform="translate(524.90,594.75) rotate(-41.5)" text-anchor="end" font-size="15.5" letter-spacing="-0.1" fill="#d9d9d9">08/02/2024</text>
<text transform="translate(544.90,594.75) rotate(-41.5)" text-anchor="end" font-size="15.5" letter-spacing="-0.1" fill="#d9d9d9">15/02/2024</text>
<text transform="translate(565.90,594.75) rotate(-41.5)" text-anchor="end" font-size="15.5" letter-spacing="-0.1" fill="#d9d9d9">22/02/2024</text>
<text transform="translate(585.90,594.75) rotate(-41.5)" text-anchor="end" font-size="15.5" letter-spacing="-0.1" fill="#d9d9d9">29/02/2024</text>
<text transform="translate(606.90,594.75) rotate(-41.5)" text-anchor="end" font-size="15.5" letter-spacing="-0.1" fill="#d9d9d9">07/03/2024</text>
<text transform="translate(626.90,594.75) rotate(-41.5)" text-anchor="end" font-size="15.5" letter-spacing="-0.1" fill="#d9d9d9">14/03/2024</text>
<text transform="translate(646.90,594.75) rotate(-41.5)" text-anchor="end" font-size="15.5" letter-spacing="-0.1" fill="#d9d9d9">21/03/2024</text>
<text transform="translate(667.90,594.75) rotate(-41.5)" text-anchor="end" font-size="15.5" letter-spacing="-0.1" fill="#d9d9d9">28/03/2024</text>
<text transform="translate(687.90,594.75) rotate(-41.5)" text-anchor="end" font-size="15.5" letter-spacing="-0.1" fill="#d9d9d9">04/04/2024</text>
<text transform="translate(708.90,594.75) rotate(-41.5)" text-anchor="end" font-size="15.5" letter-spacing="-0.1" fill="#d9d9d9">11/04/2024</text>
<text transform="translate(728.90,594.75) rotate(-41.5)" text-anchor="end" font-size="15.5" letter-spacing="-0.1" fill="#d9d9d9">18/04/2024</text>
<text transform="translate(749.90,594.75) rotate(-41.5)" text-anchor="end" font-size="15.5" letter-spacing="-0.1" fill="#d9d9d9">25/04/2024</text>
<text transform="translate(769.90,594.75) rotate(-41.5)" text-anchor="end" font-size="15.5" letter-spacing="-0.1" fill="#d9d9d9">02/05/2024</text>
<text transform="translate(790.90,594.75) rotate(-41.5)" text-anchor="end" font-size="15.5" letter-spacing="-0.1" fill="#d9d9d9">09/05/2024</text>
<text transform="translate(810.90,594.75) rotate(-41.5)" text-anchor="end" font-size="15.5" letter-spacing="-0.1" fill="#d9d9d9">16/05/2024</text>
<text transform="translate(831.90,594.75) rotate(-41.5)" text-anchor="end" font-size="15.5" letter-spacing="-0.1" fill="#d9d9d9">23/05/2024</text>
<text transform="translate(851.90,594.75) rotate(-41.5)" text-anchor="end" font-size="15.5" letter-spacing="-0.1" fill="#d9d9d9">30/05/2024</text>
<text transform="translate(871.90,594.75) rotate(-41.5)" text-anchor="end" font-size="15.5" letter-spacing="-0.1" fill="#d9d9d9">06/06/2024</text>
<text transform="translate(892.90,594.75) rotate(-41.5)" text-anchor="end" font-size="15.5" letter-spacing="-0.1" fill="#d9d9d9">13/06/2024</text>
<text transform="translate(912.90,594.75) rotate(-41.5)" text-anchor="end" font-size="15.5" letter-spacing="-0.1" fill="#d9d9d9">20/06/2024</text>
<text transform="translate(933.90,594.75) rotate(-41.5)" text-anchor="end" font-size="15.5" letter-spacing="-0.1" fill="#d9d9d9">27/06/2024</text>
<text transform="translate(953.90,594.75) rotate(-41.5)" text-anchor="end" font-size="15.5" letter-spacing="-0.1" fill="#d9d9d9">04/07/2024</text>
<text transform="translate(974.90,594.75) rotate(-41.5)" text-anchor="end" font-size="15.5" letter-spacing="-0.1" fill="#d9d9d9">11/07/2024</text>
<text transform="translate(994.90,594.75) rotate(-41.5)" text-anchor="end" font-size="15.5" letter-spacing="-0.1" fill="#d9d9d9">18/07/2024</text>
<text transform="translate(1015.90,594.75) rotate(-41.5)" text-anchor="end" font-size="15.5" letter-spacing="-0.1" fill="#d9d9d9">25/07/2024</text>
<text transform="translate(1035.90,594.75) rotate(-41.5)" text-anchor="end" font-size="15.5" letter-spacing="-0.1" fill="#d9d9d9">01/08/2024</text>
<text transform="translate(1056.90,594.75) rotate(-41.5)" text-anchor="end" font-size="15.5" letter-spacing="-0.1" fill="#d9d9d9">08/08/2024</text>
<text transform="translate(1076.90,594.75) rotate(-41.5)" text-anchor="end" font-size="15.5" letter-spacing="-0.1" fill="#d9d9d9">15/08/2024</text>
<text transform="translate(1097.90,594.75) rotate(-41.5)" text-anchor="end" font-size="15.5" letter-spacing="-0.1" fill="#d9d9d9">22/08/2024</text>
<text transform="translate(1117.90,594.75) rotate(-41.5)" text-anchor="end" font-size="15.5" letter-spacing="-0.1" fill="#d9d9d9">29/08/2024</text>
<text transform="translate(1137.90,594.75) rotate(-41.5)" text-anchor="end" font-size="15.5" letter-spacing="-0.1" fill="#d9d9d9">05/09/2024</text>
</svg>
</body></html>
